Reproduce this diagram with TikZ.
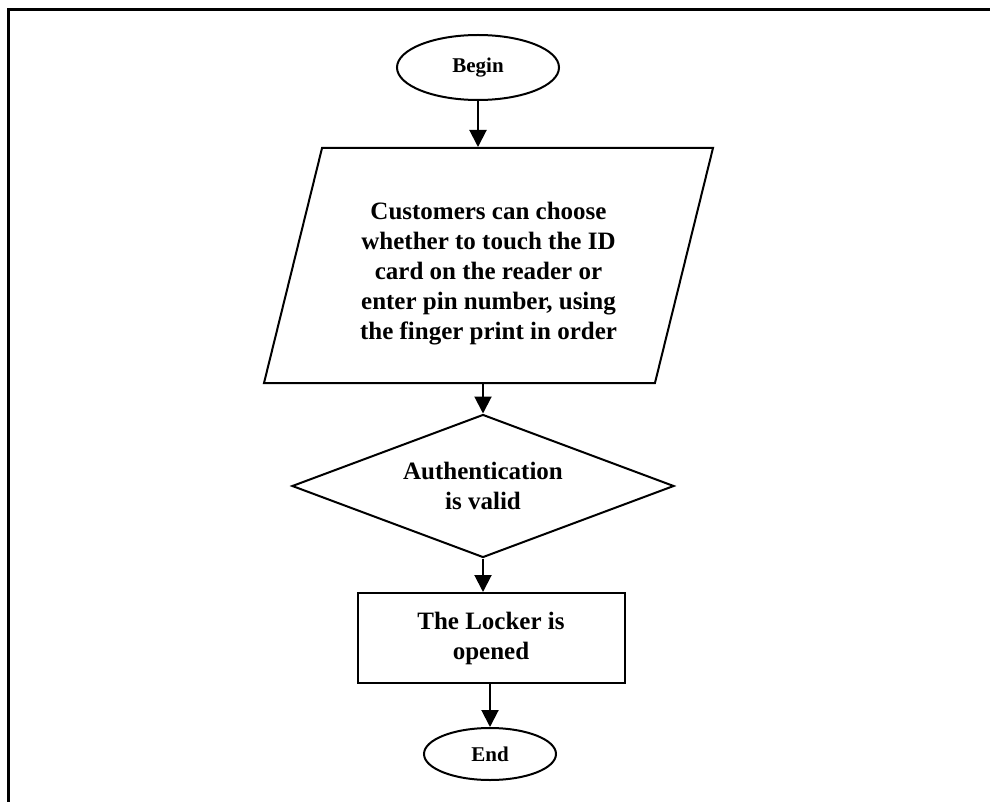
\documentclass[tikz,border=0pt]{standalone}
\usepackage{fontspec}
\setmainfont{Liberation Serif}
\usetikzlibrary{shapes.geometric}
\usetikzlibrary{arrows.meta}
\usetikzlibrary{positioning}

\begin{document}
\begin{tikzpicture}[x=1pt, y=-1pt, line width=2pt,
  every node/.style={font=\bfseries\fontsize{25}{30}\selectfont, align=center, inner sep=0pt},
  terminal/.style={draw, ellipse, font=\bfseries\fontsize{21}{25}\selectfont},
  io/.style={draw, trapezium, trapezium left angle=70, trapezium right angle=110,
    trapezium stretches body, minimum width=449pt, minimum height=235pt},
  decision/.style={draw, diamond, aspect=2.67, minimum width=382pt, minimum height=143pt},
  process/.style={draw, rectangle, minimum width=267pt, minimum height=90pt},
  flow/.style={-{Triangle[length=17pt, width=17pt]}, line width=2pt}]

  % Fix the page size
  \useasboundingbox (0,0) rectangle (990,802);

  % Draw the outer frame (top and left edges)
  \draw[line width=3pt] (1000,10) -- (8,10) -- (8,810);

  % Begin and end terminals
  \node[terminal, minimum width=162pt, minimum height=65pt] (begin) at (478,67.5) {Begin};
  \node[terminal, minimum width=132pt, minimum height=52pt] (finish) at (490,754) {End};

  % Input step (strut pushes the text a little lower)
  \node[io] (input) at (488.5,265.5) {\rule{0pt}{34pt}Customers can choose\\whether to touch the ID\\card on the reader or\\enter pin number, using\\the finger print in order};

  % Decision
  \node[decision] (check) at (483,486) {Authentication\\is valid};

  % Process
  \node[process] (open) at (491,638) {The Locker is\\opened};

  % Connect the steps
  \draw[flow] (begin.south) -- (begin.south |- input.north);
  \draw[flow] (input.south -| check.north) -- (check.north);
  \draw[flow] (check.south) -- (check.south |- open.north);
  \draw[flow] (open.south -| finish.north) -- (finish.north);

\end{tikzpicture}
\end{document}
